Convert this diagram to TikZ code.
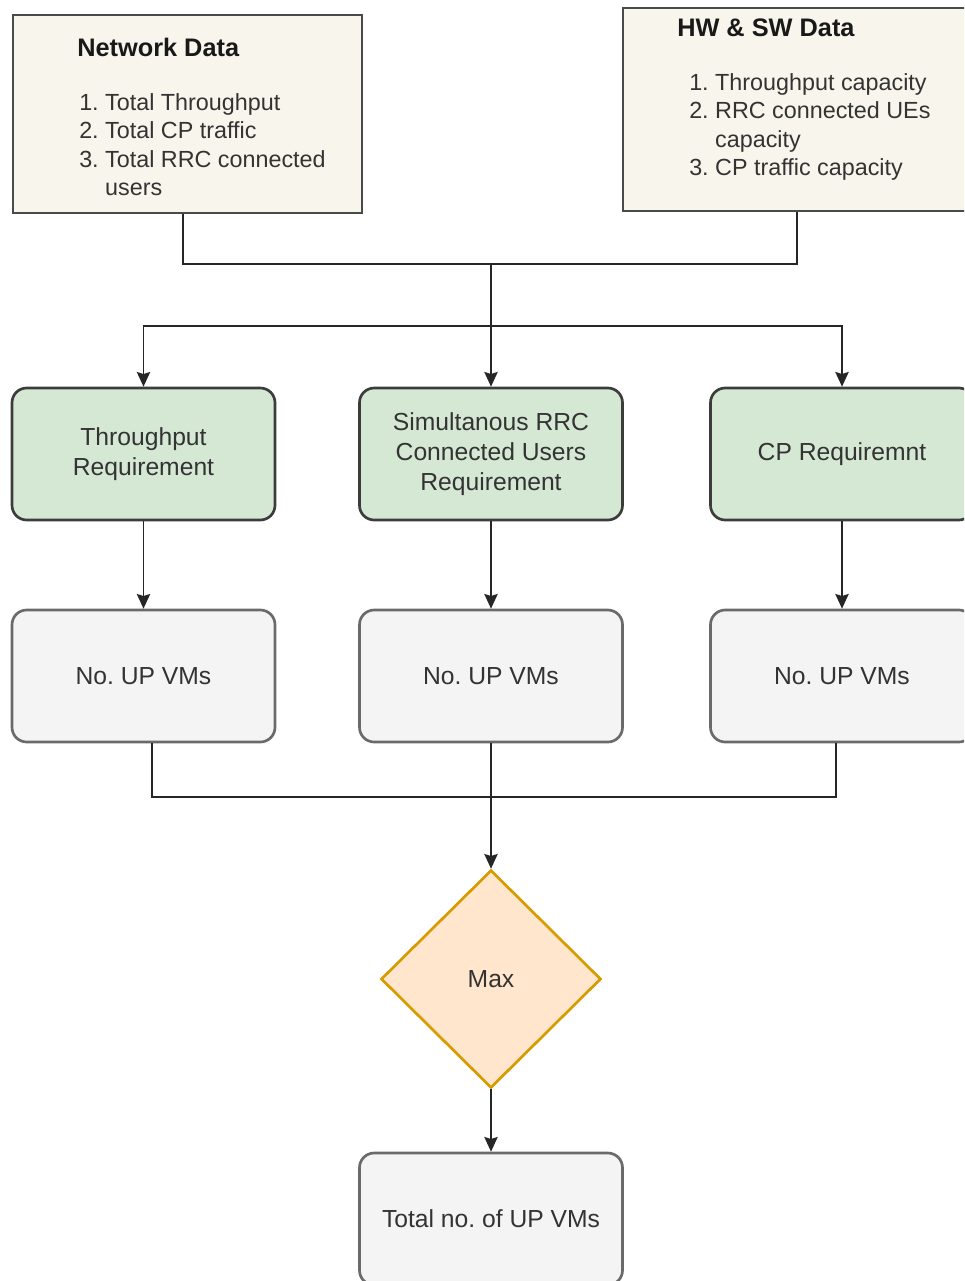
\documentclass[tikz,border=0pt]{standalone}
\usepackage{fontspec}
\setmainfont{Liberation Sans}
\usetikzlibrary{arrows.meta,shapes.geometric}
\frenchspacing
\definecolor{beigefill}{HTML}{F7F5EC}
\definecolor{beigeline}{HTML}{4A4A4A}
\definecolor{greenfill}{HTML}{D5E8D4}
\definecolor{greenline}{HTML}{3C3C3C}
\definecolor{grayfill}{HTML}{F4F4F4}
\definecolor{grayline}{HTML}{6A6A6A}
\definecolor{orangefill}{HTML}{FFE6CC}
\definecolor{orangeline}{HTML}{D79B00}
\definecolor{textgray}{HTML}{333333}
\newlength\px
\setlength\px{0.75pt}
\tikzset{
  databox/.style={draw=beigeline, fill=beigefill, line width=1.4pt, inner sep=0pt,
    minimum width=#1},
  reqbox/.style={draw=greenline, fill=greenfill, line width=2pt, rounded corners=11pt,
    minimum width=263\px, minimum height=132\px, align=center, text=textgray,
    font=\fontsize{18.5}{22.5}\selectfont},
  vmbox/.style={draw=grayline, fill=grayfill, line width=2pt, rounded corners=11pt,
    minimum width=263\px, minimum height=132\px, align=center, text=textgray,
    font=\fontsize{18.5}{22.5}\selectfont},
  maxbox/.style={diamond, draw=orangeline, fill=orangefill, line width=2pt, inner sep=0pt,
    minimum width=220\px, minimum height=218\px, text=textgray,
    font=\fontsize{18.5}{22.5}\selectfont},
  titletext/.style={anchor=base west, inner sep=0pt, text=black!90,
    font=\bfseries\fontsize{19}{23}\selectfont},
  listtext/.style={anchor=base west, inner sep=0pt, text=textgray,
    font=\fontsize{17.5}{21.4}\selectfont},
  link/.style={line width=1.3pt, draw=black!85},
  flow/.style={link, -{Stealth[length=11pt,width=10pt,inset=1.5pt]}}
}
\begin{document}
\begin{tikzpicture}[x=0.75pt, y=-0.75pt]
  \useasboundingbox (0,0) rectangle (964,1281);
  \clip (0,0) rectangle (964,1281);

  % input data boxes
  \node[databox=349\px, minimum height=198\px] (nd) at (187.5,114) {};
  \node[titletext] (ndtitle) at (77,57) {Network Data};
  \node[listtext] (ndlist) at (79,110)
    {\begin{tabular}[t]{@{}l@{\ }l@{}}
      1. & Total Throughput\\
      2. & Total CP traffic\\
      3. & Total RRC connected\\
         & users
    \end{tabular}};

  \node[databox=350\px, minimum height=203\px] (hw) at (798,109.5) {};
  \node[titletext] (hwtitle) at (677,37) {HW \& SW Data};
  \node[listtext] (hwlist) at (689,90)
    {\begin{tabular}[t]{@{}l@{\ }l@{}}
      1. & Throughput capacity\\
      2. & RRC connected UEs\\
         & capacity\\
      3. & CP traffic capacity
    \end{tabular}};

  % requirement boxes
  \node[reqbox] (g1) at (143.5,454) {Throughput\\Requirement};
  \node[reqbox] (g2) at (491,454) {Simultanous RRC\\Connected Users\\Requirement};
  \node[reqbox] (g3) at (842,454) {CP Requiremnt};

  % VM count boxes
  \node[vmbox] (v1) at (143.5,676) {No. UP VMs};
  \node[vmbox] (v2) at (491,676) {No. UP VMs};
  \node[vmbox] (v3) at (842,676) {No. UP VMs};

  % max and result
  \node[maxbox] (mx) at (491,979) {Max};
  \node[vmbox] (tot) at (491,1219) {Total no. of UP VMs};

  % junction points
  \coordinate (j1) at (491,264);
  \coordinate (j2) at (491,326);
  \coordinate (j3) at (491,797);

  % connectors
  \draw[link] ([xshift=-4.5\px]nd.south) |- (j1) -| ([xshift=-1\px]hw.south);
  \draw[flow] (j1) -- (g2.north);
  \draw[flow] (j2) -| (g1.north);
  \draw[flow] (j2) -| (g3.north);

  \draw[flow] (g1) -- (v1);
  \draw[flow] (g2) -- (v2);
  \draw[flow] (g3) -- (v3);

  \draw[link] ([xshift=8.5\px]v1.south) |- (j3) -| ([xshift=-6\px]v3.south);
  \draw[flow] (v2.south) -- (mx.north);
  \draw[flow] (mx.south) -- (tot.north);
\end{tikzpicture}
\end{document}
